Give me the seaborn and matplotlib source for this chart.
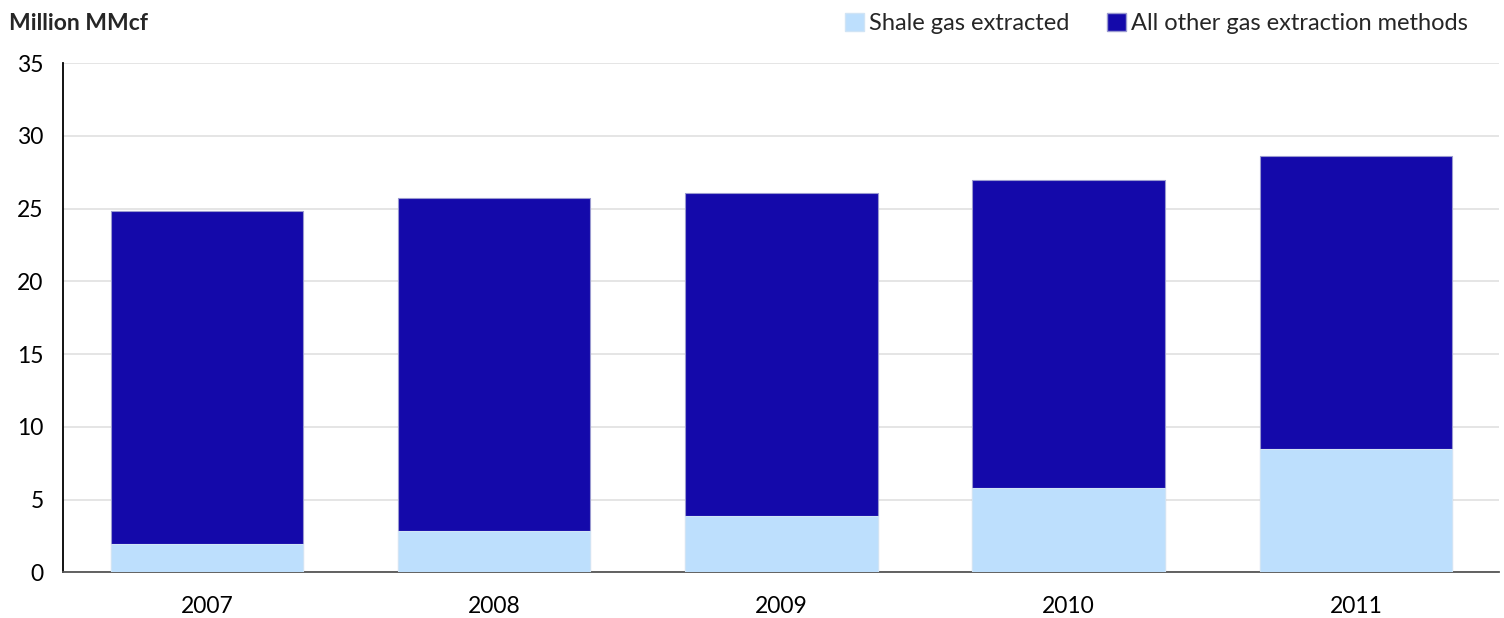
import pandas as pd
import matplotlib.pyplot as plt
import seaborn as sns
from matplotlib.patches import Patch

# Data (million MMcf)
years = ["2007", "2008", "2009", "2010", "2011"]
shale = [1.95, 2.85, 3.9, 5.8, 8.45]
total = [24.8, 25.7, 26.1, 26.95, 28.6]

df = pd.DataFrame({"year": years, "shale": shale, "total": total})

sns.set_style("white")
plt.rcParams['font.family'] = ['Lato', 'DejaVu Sans']

dark = "#1409AA"
light = "#BDDFFD"

fig = plt.figure(figsize=(15.04, 6.18), dpi=100)
ax = fig.add_axes([0.042, 0.074, 0.955, 0.824])

# total bar first (dark), shale on top at bottom (light)
sns.barplot(data=df, x="year", y="total", color=dark, width=0.67,
            saturation=1, edgecolor="#9a9ad0", linewidth=0.8, ax=ax, zorder=2)
sns.barplot(data=df, x="year", y="shale", color=light, width=0.67,
            saturation=1, edgecolor="#d0e4f5", linewidth=0.8, ax=ax, zorder=3)

ax.set_ylim(0, 35)
ax.set_yticks(range(0, 36, 5))
ax.set_xlim(-0.5, 4.5)
ax.yaxis.grid(True, color="#e0e0e0", linewidth=1.2, zorder=0)
ax.set_axisbelow(True)
ax.set_xlabel("")
ax.set_ylabel("")
ax.tick_params(axis="both", labelsize=16.5, length=0, colors="black")
ax.tick_params(axis="x", pad=17)
ax.tick_params(axis="y", pad=14)

for s in ["top", "right"]:
    ax.spines[s].set_visible(False)
ax.spines["left"].set_color("black")
ax.spines["left"].set_linewidth(1.3)
ax.spines["bottom"].set_color("#555555")
ax.spines["bottom"].set_linewidth(1.3)

fig.text(0.006, 0.962, "Million MMcf", fontsize=16.5, fontweight="bold", va="center")

handles = [Patch(facecolor=light, edgecolor="#d0e4f5", label="Shale gas extracted"),
           Patch(facecolor=dark, edgecolor="#9a9ad0", label="All other gas extraction methods")]
fig.legend(handles=handles, loc="center right", bbox_to_anchor=(0.982, 0.962), ncol=2,
           frameon=False, fontsize=17, handlelength=0.8, handleheight=0.8,
           handletextpad=0.2, columnspacing=1.6, borderaxespad=0)

fig.savefig("out.png", dpi=100)
